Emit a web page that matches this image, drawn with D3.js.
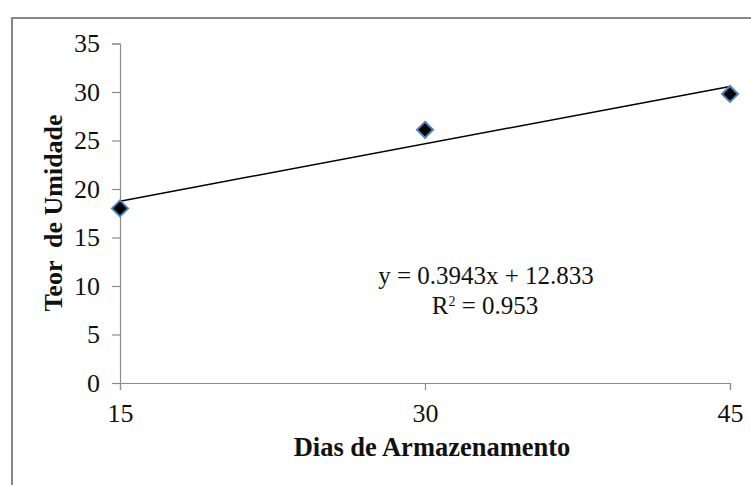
<!DOCTYPE html>
<html>
<head>
<meta charset="utf-8">
<script src="https://cdn.jsdelivr.net/npm/d3@7"></script>
<style>
  body { margin: 0; background: #fff; }
  svg { display: block; }
</style>
</head>
<body>
<svg id="chart" width="751" height="485"></svg>
<script>
// storage days vs moisture content
const days = [15, 30, 45];
const moisture = [18.0, 26.1, 29.8];
const xTicks = [15, 30, 45];
const yTicks = [0, 5, 10, 15, 20, 25, 30, 35];
const slope = 0.3943;
const intercept = 12.833;
const eqLabel = 'y = 0.3943x + 12.833';
const r2Value = '0.953';

const svg = d3.select('#chart');
const margin = { top: 43.5, left: 120, right: 21, bottom: 102 };
const width = 751 - margin.left - margin.right;
const height = 485 - margin.top - margin.bottom;
const serif = '"Liberation Serif", "Times New Roman", serif';

// outer frame (only top and left edges show in the picture)
svg.append('rect')
  .attr('x', 12).attr('y', 18)
  .attr('width', 800).attr('height', 600)
  .attr('fill', 'none')
  .attr('stroke', '#868686')
  .attr('stroke-width', 2);

const g = svg.append('g')
  .attr('transform', `translate(${margin.left},${margin.top})`);

const x = d3.scaleLinear().domain([15, 45]).range([0, width]);
const y = d3.scaleLinear().domain([0, 35]).range([height, 0]);

const yAxis = g.append('g')
  .call(d3.axisLeft(y).tickValues(yTicks).tickSize(8).tickPadding(12));
const xAxis = g.append('g')
  .attr('transform', `translate(0,${height})`)
  .call(d3.axisBottom(x).tickValues(xTicks).tickSize(7).tickPadding(14));

[xAxis, yAxis].forEach((a) => {
  a.attr('font-family', null).attr('font-size', null);
  a.select('.domain').attr('stroke', '#8c8c8c').attr('stroke-width', 1.2);
  a.selectAll('.tick line').attr('stroke', '#8c8c8c').attr('stroke-width', 1.2);
  a.selectAll('.tick text')
    .attr('fill', '#111')
    .style('font-family', serif)
    .style('font-size', '26px');
});

// trendline
g.append('line')
  .attr('x1', x(15)).attr('y1', y(slope * 15 + intercept))
  .attr('x2', x(45)).attr('y2', y(slope * 45 + intercept))
  .attr('stroke', '#000')
  .attr('stroke-width', 1.5);

// markers
g.selectAll('.pt')
  .data(days.map((d, i) => [d, moisture[i]]))
  .join('path')
  .attr('class', 'pt')
  .attr('transform', (d) => `translate(${x(d[0])},${y(d[1])})`)
  .attr('d', 'M0,-8L8,0L0,8L-8,0Z')
  .attr('fill', '#000')
  .attr('stroke', '#4f81bd')
  .attr('stroke-width', 2);

// equation
const eq = svg.append('text')
  .attr('text-anchor', 'middle')
  .style('font-family', serif)
  .style('font-size', '25px')
  .attr('fill', '#111');
eq.append('tspan').attr('x', 486).attr('y', 284).text(eqLabel);
const r2 = eq.append('tspan').attr('x', 485).attr('y', 314);
r2.append('tspan').text('R');
r2.append('tspan').attr('dy', -8).style('font-size', '14px').text('2');
r2.append('tspan').attr('dy', 8).text(' = ' + r2Value);

// axis titles
svg.append('text')
  .attr('x', 432).attr('y', 456)
  .attr('text-anchor', 'middle')
  .style('font-family', serif)
  .style('font-size', '26.5px')
  .style('font-weight', 'bold')
  .attr('fill', '#111')
  .text('Dias de Armazenamento');

svg.append('text')
  .attr('transform', 'translate(62,213) rotate(-90)')
  .attr('text-anchor', 'middle')
  .style('font-family', serif)
  .style('font-size', '26px')
  .style('font-weight', 'bold')
  .attr('fill', '#111')
  .style('white-space', 'pre')
  .text('Teor  de Umidade');
</script>
</body>
</html>
